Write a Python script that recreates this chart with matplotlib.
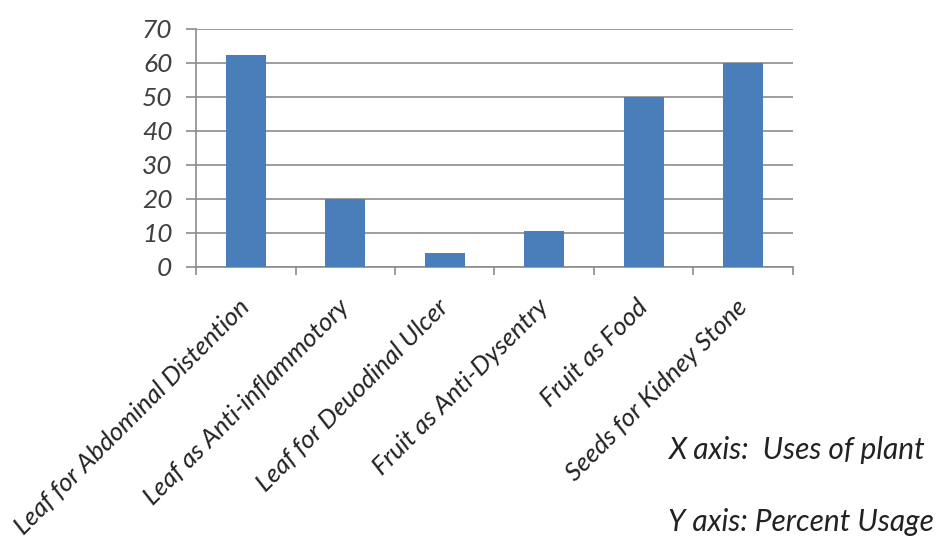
import matplotlib
matplotlib.use("Agg")
import matplotlib.pyplot as plt
import numpy as np

categories = ["Leaf for Abdominal Distention", "Leaf as Anti-inflammotory",
              "Leaf for Deuodinal Ulcer", "Fruit as Anti-Dysentry",
              "Fruit as Food", "Seeds for Kidney Stone"]
values = [62.5, 20, 4, 10.5, 50, 60]
yticks = [0, 10, 20, 30, 40, 50, 60, 70]

plt.rcParams['font.family'] = ['Lato', 'DejaVu Sans']

fig = plt.figure(figsize=(9.4, 5.38), dpi=100)
ax = fig.add_axes([196/940, 1-267/538, (793-196)/940, (267-29)/538])

x = np.arange(len(categories))
ax.bar(x, values, width=0.4, color='#4A7EBB', zorder=3)
ax.set_xlim(-0.5, len(categories) - 0.5)
ax.set_ylim(0, 70)
ax.set_yticks(yticks)
ax.yaxis.grid(True, color='#8c8c8c', linewidth=1.2, zorder=0)
ax.set_yticklabels([str(t) for t in yticks], fontsize=19, style='italic', color='#404040')
ax.tick_params(axis='y', length=7, width=1.2, color='#8c8c8c', pad=10)

ax.set_xticks(x)
ax.set_xticklabels(categories, rotation=45, ha='right', va='center', rotation_mode='anchor',
                   fontsize=18.5, style='italic', color='#222222')
ax.set_xticks(np.arange(-0.5, len(categories)), minor=True)
ax.tick_params(axis='x', which='major', length=0, pad=26)
ax.tick_params(axis='x', which='minor', length=6, width=1.2, color='#8c8c8c', direction='out')

for s in ['top', 'right']:
    ax.spines[s].set_visible(False)
ax.spines['left'].set_color('#8c8c8c')
ax.spines['bottom'].set_color('#8c8c8c')
ax.spines['left'].set_linewidth(1.2)
ax.spines['bottom'].set_linewidth(1.2)

fig.text(668/940, 1-450/538, "X axis:  Uses of plant", fontsize=21.5, style='italic',
         color='#222222', va='center', ha='left')
fig.text(668/940, 1-522/538, "Y axis: Percent Usage", fontsize=21.5, style='italic',
         color='#222222', va='center', ha='left')

fig.savefig("out.png", dpi=100)
